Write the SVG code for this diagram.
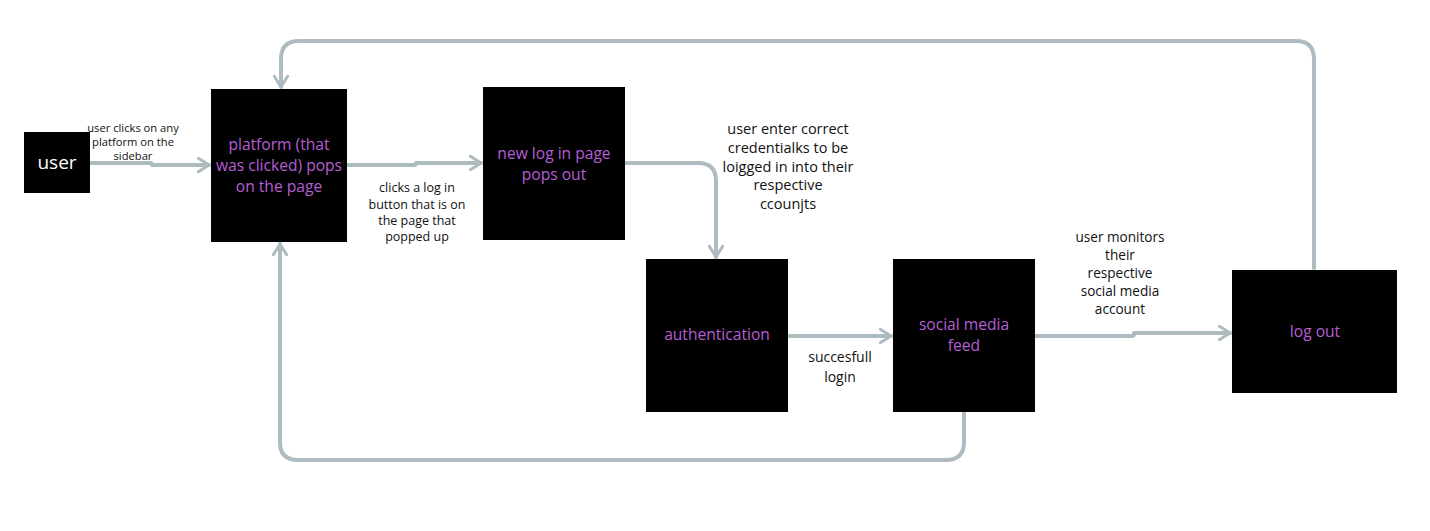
<svg xmlns="http://www.w3.org/2000/svg" width="1430" height="531" viewBox="0 0 1430 531">
<style>
.node{fill:#000}
.nt{font-family:"Open Sans","Noto Sans",sans-serif;font-size:15.6px;fill:#b65ed6;text-anchor:middle}
.el{font-family:"Open Sans","Noto Sans",sans-serif;fill:#111;text-anchor:middle}
.s11{font-size:11.2px}
.s125{font-size:12.5px}
.s136{font-size:13.6px}
.s14{font-size:14px}
.s145{font-size:14.5px}
.c{fill:none;stroke:#aebbc1;stroke-width:4;stroke-linecap:round;stroke-linejoin:round}
</style>
<defs>
<marker id="ah" viewBox="0 0 12 12" refX="10" refY="6" markerWidth="4" markerHeight="4" markerUnits="strokeWidth" orient="auto">
<path d="M2,1 L10,6 L2,11" fill="none" stroke="#aebbc1" stroke-width="2.2" stroke-linecap="round" stroke-linejoin="round"/>
</marker>
</defs>
<rect width="1430" height="531" fill="#fff"/>
<g id="connectors">
<path class="c" marker-end="url(#ah)" d="M91,163 L150,163 Q152,163 152,165 L209,165"/>
<path class="c" marker-end="url(#ah)" d="M348,165 L414,165 Q416,165 416,163 L481,163"/>
<path class="c" marker-end="url(#ah)" d="M626,163 L698,163 Q716,163 716,181 L716,257"/>
<path class="c" marker-end="url(#ah)" d="M789,336 L891,336"/>
<path class="c" marker-end="url(#ah)" d="M1036,336 L1132,336 Q1134,336 1134,334 L1134,333 L1230,333"/>
<path class="c" marker-end="url(#ah)" d="M1314,268 L1314,59 Q1314,41 1296,41 L299,41 Q281,41 281,59 L281,87"/>
<path class="c" marker-end="url(#ah)" d="M964,413 L964,442 Q964,460 946,460 L298,460 Q280,460 280,442 L280,244"/>
</g>
<g id="user">
<rect class="node" x="24" y="132" width="66" height="61"/>
<text x="57" y="169" font-family="Open Sans,Noto Sans,sans-serif" font-size="19" fill="#fff" text-anchor="middle">user</text>
</g>
<g id="platform">
<rect class="node" x="211" y="89" width="136" height="153"/>
<text class="nt" x="279" y="150">platform (that</text>
<text class="nt" x="279" y="171">was clicked) pops</text>
<text class="nt" x="279" y="192">on the page</text>
</g>
<g id="newlogin">
<rect class="node" x="483" y="87" width="142" height="153"/>
<text class="nt" x="554" y="159">new log in page</text>
<text class="nt" x="554" y="180">pops out</text>
</g>
<g id="authentication">
<rect class="node" x="646" y="259" width="142" height="153"/>
<text class="nt" x="717" y="340">authentication</text>
</g>
<g id="feed">
<rect class="node" x="893" y="259" width="142" height="153"/>
<text class="nt" x="964" y="330">social media</text>
<text class="nt" x="964" y="351">feed</text>
</g>
<g id="logout">
<rect class="node" x="1232" y="270" width="165" height="123"/>
<text class="nt" x="1315" y="337">log out</text>
</g>
<g id="labels">
<text class="el s11" x="133" y="132">user clicks on any</text>
<text class="el s11" x="133" y="146">platform on the</text>
<text class="el s11" x="133" y="160">sidebar</text>
<text class="el s125" x="417" y="192">clicks a log in</text>
<text class="el s125" x="417" y="209">button that is on</text>
<text class="el s125" x="417" y="225">the page that</text>
<text class="el s125" x="417" y="241">popped up</text>
<text class="el s145" x="788" y="134">user enter correct</text>
<text class="el s145" x="788" y="153">credentialks to be</text>
<text class="el s145" x="788" y="172">loigged in into their</text>
<text class="el s145" x="788" y="190">respective</text>
<text class="el s145" x="788" y="209">ccounjts</text>
<text class="el s14" x="840" y="362">succesfull</text>
<text class="el s14" x="840" y="382">login</text>
<text class="el s136" x="1120" y="242">user monitors</text>
<text class="el s136" x="1120" y="260">their</text>
<text class="el s136" x="1120" y="278">respective</text>
<text class="el s136" x="1120" y="296">social media</text>
<text class="el s136" x="1120" y="314">account</text>
</g>
</svg>
